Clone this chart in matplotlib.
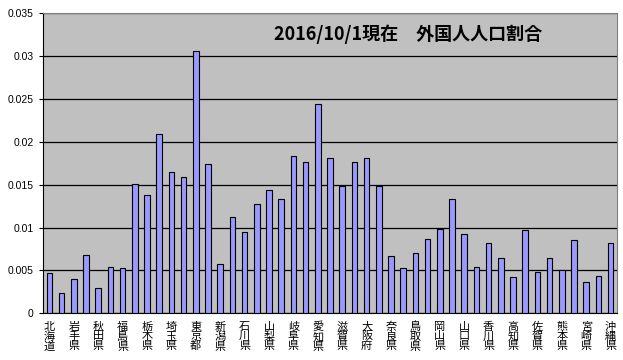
import matplotlib.pyplot as plt
import numpy as np

# 都道府県別 外国人人口割合 (2016/10/1現在)
prefectures = ["北海道", "青森県", "岩手県", "宮城県", "秋田県", "山形県", "福島県",
               "茨城県", "栃木県", "群馬県", "埼玉県", "千葉県", "東京都", "神奈川県",
               "新潟県", "富山県", "石川県", "福井県", "山梨県", "長野県", "岐阜県",
               "静岡県", "愛知県", "三重県", "滋賀県", "京都府", "大阪府", "兵庫県",
               "奈良県", "和歌山県", "鳥取県", "島根県", "岡山県", "広島県", "山口県",
               "徳島県", "香川県", "愛媛県", "高知県", "福岡県", "佐賀県", "長崎県",
               "熊本県", "大分県", "宮崎県", "鹿児島県", "沖縄県"]
ratio = [0.00465, 0.00233, 0.00399, 0.00686, 0.00291, 0.00535, 0.00523,
         0.01512, 0.01376, 0.02088, 0.01645, 0.01587, 0.03057, 0.01738,
         0.00570, 0.01128, 0.00953, 0.01279, 0.01442, 0.01337, 0.01835,
         0.01762, 0.02438, 0.01812, 0.01481, 0.01762, 0.01812, 0.01481,
         0.00663, 0.00523, 0.00698, 0.00872, 0.00988, 0.01337, 0.00930,
         0.00535, 0.00826, 0.00651, 0.00419, 0.00977, 0.00477, 0.00651,
         0.00500, 0.00860, 0.00360, 0.00430, 0.00826]
yticks = [0, 0.005, 0.01, 0.015, 0.02, 0.025, 0.03, 0.035]
ytick_labels = ["0", "0.005", "0.01", "0.015", "0.02", "0.025", "0.03", "0.035"]
title = "2016/10/1現在　外国人人口割合"

plt.rcParams['font.family'] = ['Noto Sans CJK JP', 'DejaVu Sans']

fig = plt.figure(figsize=(6.23, 3.6), dpi=100)
ax = fig.add_axes([0.0695, 0.1297, 0.9204, 0.8333])
ax.set_facecolor("#c0c0c0")

x = np.arange(len(prefectures))
ax.bar(x, ratio, width=0.45, color="#9999ff", edgecolor="black", linewidth=0.8, zorder=3)

ax.set_xlim(-0.5, len(prefectures) - 0.5)
ax.set_ylim(0, 0.035)
ax.set_yticks(yticks)
ax.set_yticklabels(ytick_labels, family="Liberation Sans", fontsize=7.5)
ax.grid(axis="y", color="black", linewidth=0.9, zorder=1)

# 縦書きラベル (1つおき)
shown = x[::2]
ax.set_xticks(shown)
ax.set_xticklabels(["\n".join(prefectures[i]) for i in shown],
                   fontsize=8, linespacing=0.95, va="top")
ax.tick_params(axis="x", length=0, pad=6)
ax.tick_params(axis="y", length=3, pad=4)

for side in ["top", "right"]:
    ax.spines[side].set_color("#808080")
ax.spines["left"].set_color("black")
ax.spines["bottom"].set_color("black")

ax.text(0.636, 0.93, title, transform=ax.transAxes, ha="center", va="center",
        fontsize=13, fontweight="bold", zorder=4)

fig.savefig("out.png", dpi=100)
